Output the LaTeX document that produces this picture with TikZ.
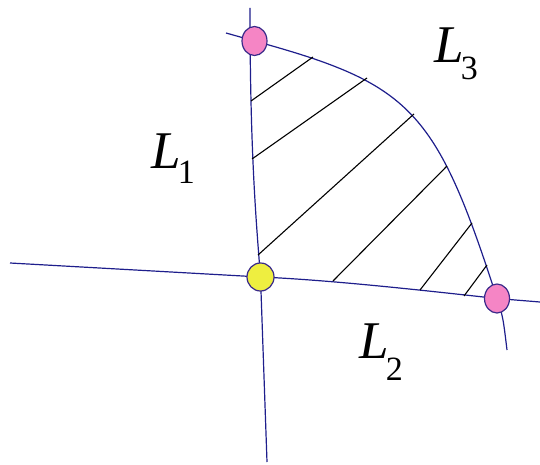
\documentclass[tikz,border=0pt]{standalone}
\usepackage{fontspec}
\setmainfont{Liberation Serif}
\usetikzlibrary{shapes.geometric}
\definecolor{lnblue}{HTML}{1E1E8C}
\definecolor{dotpink}{HTML}{F585C5}
\definecolor{dotyellow}{HTML}{EEEE40}
\definecolor{dotedge}{HTML}{3A2A8A}
\newcommand{\lname}[2]{{\itshape L}\kern-1.5pt\raisebox{-#2pt}{\fontsize{17}{17}\selectfont #1}}

\begin{document}
\begin{tikzpicture}[x=0.5pt, y=-0.5pt,
  bnd/.style={draw=lnblue, line width=0.6pt},
  hatch/.style={draw=black, line width=0.55pt},
  pinkdot/.style={ellipse, draw=dotedge, fill=dotpink, line width=0.6pt,
                  minimum width=12.5pt, minimum height=14.5pt, inner sep=0pt},
  yellowdot/.style={ellipse, draw=dotedge, fill=dotyellow, line width=0.6pt,
                    minimum width=13.5pt, minimum height=14pt, inner sep=0pt},
  lab/.style={anchor=base west, inner sep=0pt, font=\fontsize{26.5}{30}\selectfont}
]
\useasboundingbox (0,0) rectangle (540,465);

% corner points and free ends
\coordinate (top) at (254.5,41);
\coordinate (mid) at (260.5,277);
\coordinate (rgt) at (497,298.5);
\coordinate (l1a) at (250,8);
\coordinate (l1b) at (267,462);
\coordinate (l2a) at (10,263);
\coordinate (l2b) at (540,302);
\coordinate (l3a) at (226,33);
\coordinate (l3b) at (507,350);

% boundary lines
\draw[bnd] (l1a) .. controls (250,150) and (256,220) .. (mid) -- (l1b);
\draw[bnd] (l2a) -- (mid) .. controls (330,280) and (420,290) .. (rgt) -- (l2b);
\draw[bnd] (l3a) -- (top) .. controls (411,84) and (436,109) .. (rgt)
  .. controls (503,317) .. (l3b);

% hatching
\foreach \xa/\ya/\xb/\yb in {251/101/313/57, 252/159/367/78, 258/255/414/114,
                   333/281/447/166, 420/290/472/223, 464/296/487/265}
  \draw[hatch] (\xa,\ya) -- (\xb,\yb);

% points
\node[pinkdot] (ptop) at (top) {};
\node[yellowdot] (pmid) at (mid) {};
\node[pinkdot] (prgt) at (rgt) {};

% labels
\node[lab] (lone) at (151,168) {\lname{1}{7.5}};
\node[lab] (ltwo) at (359,358) {\lname{2}{11}};
\node[lab] (lthree) at (434,63) {\lname{3}{8.5}};
\end{tikzpicture}
\end{document}
